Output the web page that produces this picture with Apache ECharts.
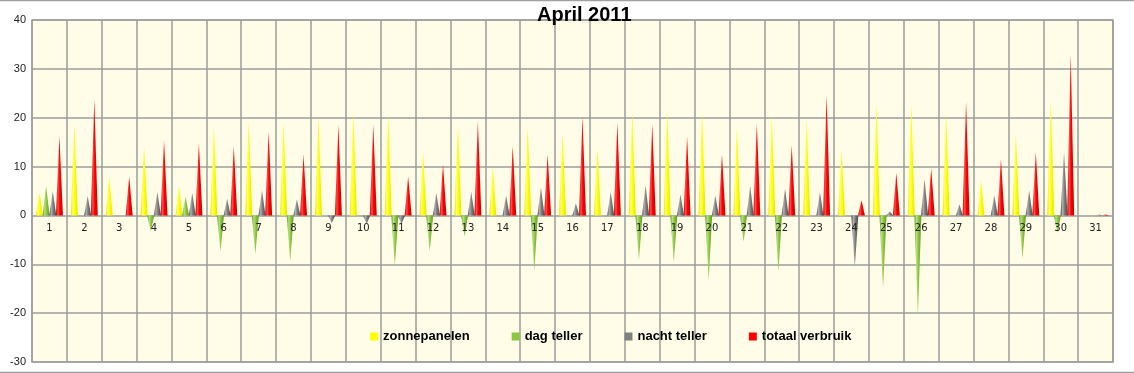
<!DOCTYPE html>
<html>
<head>
<meta charset="utf-8">
<script src="https://cdn.jsdelivr.net/npm/echarts@6/dist/echarts.min.js"></script>
<style>
html,body{margin:0;padding:0;background:#fff;}
#c{width:1134px;height:373px;}
</style>
</head>
<body>
<div id="c"></div>
<script>
var days = ['1','2','3','4','5','6','7','8','9','10','11','12','13','14','15','16','17','18','19','20','21','22','23','24','25','26','27','28','29','30','31'];
var seriesNames = ['zonnepanelen','dag teller','nacht teller','totaal verbruik'];
var zonnepanelen = [4.8,18.7,7.9,14.0,6.0,18.2,19.4,19.0,20.3,21.2,20.9,13.0,18.7,9.8,18.3,16.8,13.8,21.2,21.4,21.2,18.2,20.5,19.7,13.5,22.9,22.8,20.9,7.2,16.8,23.8,0];
var dagTeller = [6.0,0,0,-3.3,3.8,-7.4,-7.9,-9.4,0,0,-10.3,-7.4,-4.3,0,-11.3,0,0,-9.1,-9.6,-13.2,-5.4,-11.5,0,0,-14.9,-20.4,0,0,-8.8,-3.6,0];
var nachtTeller = [5.0,4.0,0,4.8,4.6,3.4,5.1,3.3,-1.6,-1.8,-1.8,4.6,4.8,4.1,5.7,2.5,4.8,6.2,4.3,4.1,6.0,5.5,4.8,-10.6,0.8,7.5,2.3,4.1,5.1,13.0,0.2];
var totaalVerbruik = [16.2,23.8,7.9,15.4,14.7,14.2,17.1,12.5,18.5,18.5,8.0,10.5,19.2,14.2,12.5,20.2,19.0,18.7,16.1,12.5,18.8,14.4,24.7,3.1,8.7,9.6,23.3,11.5,13.0,33.0,0.2];
var yTicks = {min:-30, max:40, interval:10};

var baseColors = ['#FFFF00','#8DC63F','#7F7F7F','#FF0000'];
var edgeColors = ['#E6E600','#5E9A28','#4A4A4A','#C80000'];
var lightColors = ['#FFFF70','#B8E080','#B0B0B0','#FF5050'];
var allData = [zonnepanelen, dagTeller, nachtTeller, totaalVerbruik];

function grad(i){
  return new echarts.graphic.LinearGradient(0,0,1,0,[
    {offset:0,color:edgeColors[i]},
    {offset:0.3,color:lightColors[i]},
    {offset:0.55,color:baseColors[i]},
    {offset:1,color:edgeColors[i]}
  ]);
}

var series = seriesNames.map(function(n,i){
  return {
    name:n,
    type:'pictorialBar',
    xAxisIndex:0,
    symbol:'triangle',
    symbolSize:[7,'100%'],
    barWidth:7,
    barGap:'-5%',
    itemStyle:{color:grad(i)},
    data:allData[i],
    z:5
  };
});

var H = 373, gridTop = 20, gridBottom = 11;
var plotH = H - gridTop - gridBottom;
var zeroOffset = -(0 - yTicks.min) / (yTicks.max - yTicks.min) * plotH;

var chart = echarts.init(document.getElementById('c'));
chart.setOption({
  animation:false,
  backgroundColor:'#ffffff',
  title:{
    text:'April 2011',
    left:537, top:5, padding:0, z:20,
    textStyle:{fontFamily:'Liberation Sans, Arial, sans-serif',fontSize:20,fontWeight:'bold',color:'#000'}
  },
  legend:{
    left:370, top:330,
    padding:0,
    itemWidth:8, itemHeight:8, itemGap:42,
    icon:'rect',
    textStyle:{fontFamily:'Liberation Sans, Arial, sans-serif',fontSize:13,fontWeight:'bold',color:'#000'},
    data:seriesNames.map(function(n,i){return {name:n,itemStyle:{color:baseColors[i]}};})
  },
  grid:{
    left:32, right:21, top:gridTop, bottom:gridBottom,
    show:true, backgroundColor:'#FFFDE8', borderColor:'#A8A8A8', borderWidth:1.5
  },
  xAxis:[{
    type:'category',
    data:days,
    boundaryGap:true,
    position:'bottom',
    axisLine:{show:false},
    axisTick:{show:false},
    axisLabel:{show:false},
    splitLine:{show:true,lineStyle:{color:'#9C9C9C',width:1.5}},
    z:1
  },{
    type:'category',
    data:days,
    boundaryGap:true,
    position:'bottom',
    offset:zeroOffset,
    axisLine:{show:false},
    axisTick:{show:false},
    axisLabel:{color:'#222',fontSize:10,fontFamily:'DejaVu Sans, sans-serif',margin:8},
    splitLine:{show:false},
    z:10
  }],
  yAxis:{
    type:'value',
    min:yTicks.min, max:yTicks.max, interval:yTicks.interval,
    axisLine:{show:false},
    axisTick:{show:false},
    axisLabel:{color:'#222',fontSize:11,fontFamily:'Liberation Sans, Arial, sans-serif',margin:6},
    splitLine:{show:true,lineStyle:{color:'#9C9C9C',width:1.5}},
    z:1
  },
  graphic:[
    {type:'line',shape:{x1:0,y1:0.5,x2:1134,y2:0.5},style:{stroke:'#A0A0A0',lineWidth:1.5}},
    {type:'line',shape:{x1:0,y1:372.5,x2:1134,y2:372.5},style:{stroke:'#A0A0A0',lineWidth:1.5}}
  ],
  series:series
});
</script>
</body>
</html>
